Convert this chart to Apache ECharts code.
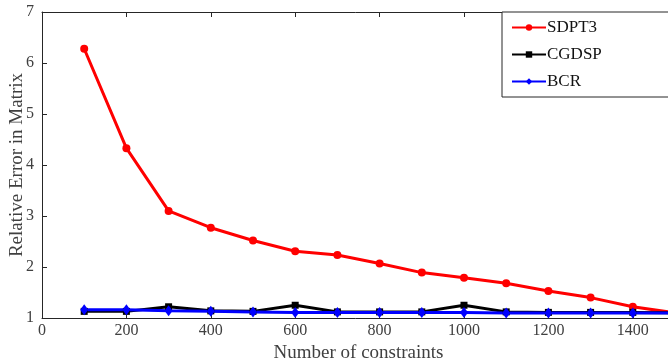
<!DOCTYPE html>
<html>
<head>
<meta charset="utf-8">
<script src="https://cdn.jsdelivr.net/npm/echarts@6/dist/echarts.min.js"></script>
<style>
  html, body { margin: 0; padding: 0; background: #fff; }
  #chart { width: 668px; height: 364px; }
</style>
</head>
<body>
<div id="chart"></div>
<script>
// Number of constraints (x values)
const constraints = [100, 200, 300, 400, 500, 600, 700, 800, 900, 1000, 1100, 1200, 1300, 1400, 1500];
// Relative error per solver
const sdpt3 = [6.28, 4.33, 3.10, 2.77, 2.52, 2.31, 2.235, 2.07, 1.89, 1.79, 1.68, 1.53, 1.40, 1.22, 1.10];
const cgdsp = [1.13, 1.13, 1.22, 1.14, 1.13, 1.25, 1.12, 1.12, 1.12, 1.25, 1.12, 1.11, 1.11, 1.11, 1.10];
const bcr   = [1.16, 1.16, 1.14, 1.13, 1.12, 1.11, 1.11, 1.11, 1.11, 1.11, 1.10, 1.10, 1.10, 1.10, 1.10];

const xMin = 0, xMax = 1500, xStep = 200;
const yMin = 1, yMax = 7, yStep = 1;

const pairs = ys => constraints.map((x, i) => [x, ys[i]]);

const axisColor = '#262626';
const textColor = '#404040';
const font = '"Liberation Serif", "DejaVu Serif", serif';

const chart = echarts.init(document.getElementById('chart'), null, { renderer: 'canvas' });

chart.setOption({
  backgroundColor: '#ffffff',
  animation: false,
  textStyle: { fontFamily: font },
  grid: { left: 42, top: 12, right: -7, bottom: 46, containLabel: false, outerBoundsMode: 'none' },
  legend: {
    orient: 'vertical',
    left: 502,
    top: 12,
    padding: [7, 120, 7, 9],
    itemGap: 10,
    itemWidth: 34,
    itemHeight: 8,
    borderColor: axisColor,
    borderWidth: 1,
    backgroundColor: '#fff',
    textStyle: { fontFamily: font, fontSize: 17, color: '#111', padding: [0, 0, 0, -4] },
    data: ['SDPT3', 'CGDSP', 'BCR']
  },
  xAxis: [{
    type: 'value', min: xMin, max: xMax, interval: xStep,
    name: 'Number of constraints', nameLocation: 'middle', nameGap: 26,
    nameMoveOverlap: false,
    nameTextStyle: { fontFamily: font, fontSize: 19, color: textColor },
    axisLine: { show: true, lineStyle: { color: axisColor, width: 1 } },
    axisTick: { show: true, inside: true, length: 5, lineStyle: { color: axisColor } },
    axisLabel: { fontFamily: font, fontSize: 16, color: textColor, margin: 5, showMaxLabel: false,
                 formatter: v => String(v) },
    splitLine: { show: false }
  }, {
    type: 'value', min: xMin, max: xMax, interval: xStep, position: 'top',
    axisLine: { show: true, lineStyle: { color: axisColor, width: 1 } },
    axisTick: { show: true, inside: true, length: 5, lineStyle: { color: axisColor } },
    axisLabel: { show: false },
    splitLine: { show: false }
  }],
  yAxis: [{
    type: 'value', min: yMin, max: yMax, interval: yStep,
    name: 'Relative Error in Matrix', nameLocation: 'middle', nameGap: 15,
    nameMoveOverlap: false,
    nameTextStyle: { fontFamily: font, fontSize: 19, color: textColor },
    axisLine: { show: true, lineStyle: { color: axisColor, width: 1 } },
    axisTick: { show: true, inside: true, length: 5, lineStyle: { color: axisColor } },
    axisLabel: { fontFamily: font, fontSize: 16, color: textColor, margin: 8 },
    splitLine: { show: false }
  }],
  series: [{
    name: 'SDPT3', type: 'line', data: pairs(sdpt3),
    symbol: 'circle', symbolSize: 8,
    lineStyle: { color: '#ff0000', width: 3 },
    itemStyle: { color: '#ff0000' }
  }, {
    name: 'CGDSP', type: 'line', data: pairs(cgdsp),
    symbol: 'rect', symbolSize: 7,
    lineStyle: { color: '#000000', width: 3 },
    itemStyle: { color: '#000000' }
  }, {
    name: 'BCR', type: 'line', data: pairs(bcr),
    symbol: 'diamond', symbolSize: [8, 11],
    lineStyle: { color: '#0000ff', width: 3 },
    itemStyle: { color: '#0000ff' }
  }]
});
</script>
</body>
</html>
